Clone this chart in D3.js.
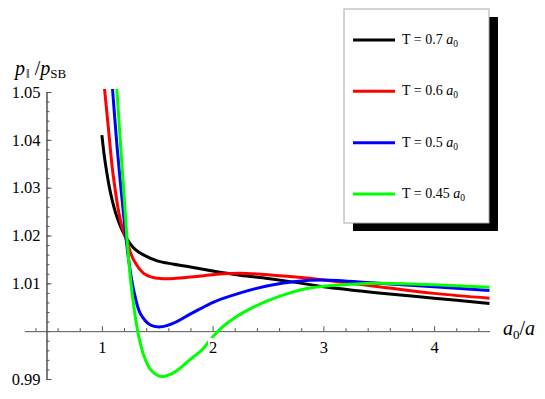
<!DOCTYPE html>
<html>
<head>
<meta charset="utf-8">
<script src="https://cdn.jsdelivr.net/npm/d3@7"></script>
<style>
body { margin: 0; background: #fff; }
text { font-family: "Liberation Serif", "Times New Roman", serif; fill: #000; }
</style>
</head>
<body>
<div id="chart"></div>
<script>
// values
const temps = ["0.7", "0.6", "0.5", "0.45"];
const colors = ["#000000", "#ff0000", "#0000ff", "#00ff00"];

const xBlack = [1.0, 1.03, 1.08, 1.14, 1.21, 1.30, 1.38, 1.50, 1.65, 1.80, 2.0, 2.25, 2.5, 2.75, 3.0, 3.5, 4.0, 4.5];
const yBlack = [1.0410, 1.0353, 1.0287, 1.0236, 1.0199, 1.0171, 1.0159, 1.0147, 1.0140, 1.0134, 1.0126, 1.0117, 1.0110, 1.0102, 1.0093, 1.0080, 1.0069, 1.0058];

const xRed = [1.02, 1.06, 1.10, 1.167, 1.228, 1.287, 1.377, 1.45, 1.53, 1.65, 1.8, 1.95, 2.1, 2.25, 2.5, 2.75, 3.0, 3.5, 4.0, 4.5];
const yRed = [1.0516, 1.0422, 1.0330, 1.0232, 1.0186, 1.0149, 1.0121, 1.0113, 1.0110, 1.0110, 1.0113, 1.0117, 1.0120, 1.0121, 1.0118, 1.0113, 1.0107, 1.0093, 1.0079, 1.0069];

const xBlue = [1.09, 1.137, 1.182, 1.242, 1.287, 1.347, 1.438, 1.528, 1.648, 1.793, 2.02, 2.25, 2.5, 2.75, 3.0, 3.5, 4.0, 4.5];
const yBlue = [1.0525, 1.0386, 1.0276, 1.0149, 1.0086, 1.0037, 1.0013, 1.0009, 1.0017, 1.0035, 1.0062, 1.0080, 1.0095, 1.0104, 1.0107, 1.0100, 1.0093, 1.0085];

const xGreen = [1.13, 1.182, 1.203, 1.221, 1.242, 1.273, 1.302, 1.332, 1.377, 1.438, 1.50, 1.55, 1.60, 1.679, 1.793, 1.9, 2.0, 2.1, 2.2, 2.35, 2.5, 2.7, 2.85, 3.0, 3.25, 3.5, 4.0, 4.5];
const yGreen = [1.0523, 1.0345, 1.0274, 1.0212, 1.0149, 1.0079, 1.0030, 0.9990, 0.9950, 0.9920, 0.9908, 0.9905, 0.9908, 0.9918, 0.9940, 0.9960, 0.9988, 1.0011, 1.0028, 1.0048, 1.0064, 1.0080, 1.0089, 1.0094, 1.0098, 1.0100, 1.0097, 1.0092];

const xTicks = [1, 2, 3, 4];
const yTicks = [0.99, 1.01, 1.02, 1.03, 1.04, 1.05];

const seriesX = [xBlack, xRed, xBlue, xGreen];
const seriesY = [yBlack, yRed, yBlue, yGreen];

const width = 545, height = 399;

const svg = d3.select('#chart').append('svg')
    .attr('width', width)
    .attr('height', height);

const x = d3.scaleLinear().domain([0.3, 4.5]).range([24.35, 489.5]);
const y = d3.scaleLinear().domain([0.99, 1.05]).range([379, 92]);

// minor ticks
const xMinor = d3.range(2, 23).map(i => i * 0.2).filter(v => Math.abs(v - Math.round(v)) > 1e-6);
const yMinor = d3.range(0, 31).map(i => 0.99 + i * 0.002);

// y axis
const yAxisG = svg.append('g').attr('transform', 'translate(' + x(0.5) + ',0)');
yAxisG.call(d3.axisLeft(y).tickValues(yMinor).tickSize(-3).tickSizeOuter(0).tickFormat(''));
yAxisG.append('g').call(d3.axisLeft(y).tickValues(yTicks).tickSize(-5).tickSizeOuter(0)
    .tickPadding(6).tickFormat(d3.format('.2f')));
yAxisG.selectAll('text').attr('font-size', 16.5).attr('fill', '#000')
    .attr('font-family', '"Liberation Serif", serif');

// x axis
const xAxisG = svg.append('g').attr('transform', 'translate(0,' + y(1.0) + ')');
xAxisG.call(d3.axisBottom(x).tickValues(xMinor).tickSize(-3).tickSizeOuter(0).tickFormat(''));
const xMajor = xAxisG.append('g').call(d3.axisBottom(x).tickValues(xTicks).tickSize(-5)
    .tickSizeOuter(0).tickPadding(10).tickFormat(d3.format('d')));
xMajor.select('.domain').remove();

svg.selectAll('.domain, .tick line').attr('stroke', '#555').attr('stroke-width', 1);

// curves
svg.append('clipPath').attr('id', 'clip')
    .append('rect').attr('x', 0).attr('y', 89).attr('width', width).attr('height', height);

const line = d3.line()
    .x(d => x(d[0]))
    .y(d => y(d[1]))
    .curve(d3.curveCatmullRom.alpha(0.5));

const curves = svg.append('g').attr('clip-path', 'url(#clip)');
seriesX.forEach(function(xs, i) {
    const pts = xs.map((v, j) => [v, seriesY[i][j]]);
    curves.append('path')
        .attr('d', line(pts))
        .attr('fill', 'none')
        .attr('stroke', colors[i])
        .attr('stroke-width', 3);
});

// x tick labels sit on a white box above the curves
const xLabels = svg.append('g');
xMajor.selectAll('.tick text').attr('font-size', 16.5).attr('fill', '#000')
    .attr('font-family', '"Liberation Serif", serif');
xMajor.selectAll('.tick').each(function(d) {
    const node = d3.select(this).select('text').node();
    const b = node.getBBox();
    const tr = d3.select(this).attr('transform');
    const g = xLabels.append('g').attr('transform', 'translate(0,' + y(1.0) + ') ' + tr);
    g.append('rect').attr('x', b.x - 1).attr('y', b.y).attr('width', b.width + 2).attr('height', b.height)
        .attr('fill', '#fff');
    g.append('text').attr('x', node.getAttribute('x') || 0).attr('y', node.getAttribute('y'))
        .attr('dy', '0.71em').attr('text-anchor', 'middle').attr('font-size', 16.5)
        .text(node.textContent);
    d3.select(node).remove();
});

// axis labels
const yLab = svg.append('text').attr('x', 15).attr('y', 75).attr('font-size', 20);
yLab.append('tspan').attr('font-style', 'italic').text('p');
yLab.append('tspan').attr('font-size', 13).attr('dy', 3).attr('dx', 1).text('\u2016');
yLab.append('tspan').attr('dy', -3).text(' /');
yLab.append('tspan').attr('font-style', 'italic').text('p');
yLab.append('tspan').attr('font-size', 13).attr('dy', 3).text('SB');

const xLab = svg.append('text').attr('x', 503).attr('y', 335).attr('font-size', 20);
xLab.append('tspan').attr('font-style', 'italic').text('a');
xLab.append('tspan').attr('font-size', 13).attr('dy', 4).text('0');
xLab.append('tspan').attr('dy', -4).text('/');
xLab.append('tspan').attr('font-style', 'italic').text('a');

// legend
const legend = svg.append('g');
legend.append('rect').attr('x', 353).attr('y', 17).attr('width', 145).attr('height', 214).attr('fill', '#000');
legend.append('rect').attr('x', 344).attr('y', 9).attr('width', 145).attr('height', 214)
    .attr('fill', '#fff').attr('stroke', '#aaa').attr('stroke-width', 1);

const legendY = d3.scalePoint().domain(temps).range([40, 194]);
temps.forEach(function(t, i) {
    const ly = legendY(t);
    legend.append('line').attr('x1', 353).attr('x2', 395).attr('y1', ly).attr('y2', ly)
        .attr('stroke', colors[i]).attr('stroke-width', 3);
    const txt = legend.append('text').attr('x', 402).attr('y', ly + 4).attr('font-size', 14);
    txt.append('tspan').text('T = ' + t + ' ');
    txt.append('tspan').attr('font-style', 'italic').text('a');
    txt.append('tspan').attr('font-size', 9.5).attr('dy', 3).text('0');
});
</script>
</body>
</html>
